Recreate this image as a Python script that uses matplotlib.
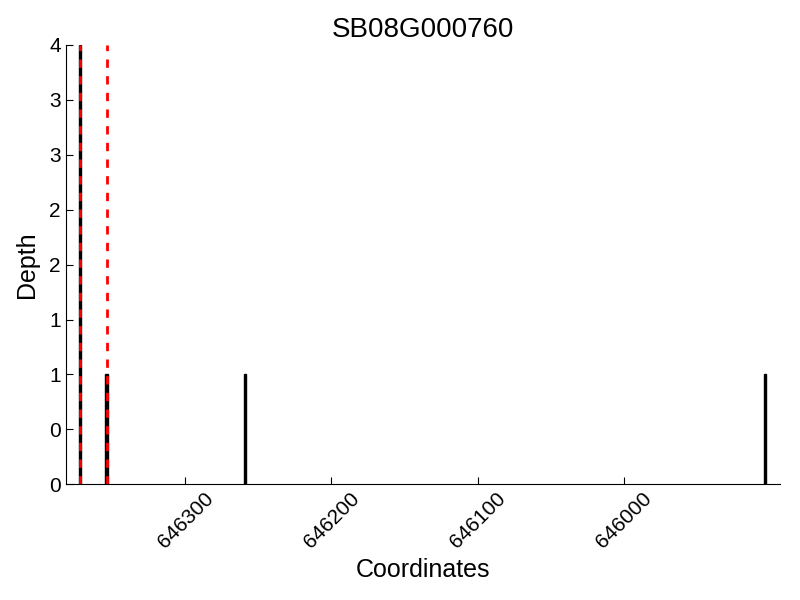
import matplotlib
matplotlib.use("Agg")
import matplotlib.pyplot as plt
from matplotlib.ticker import MultipleLocator, FormatStrFormatter

# Okuma derinligi verisi
gene_name = "SB08G000760"
positions = [646372, 646354, 646259, 645903]
depths = [4, 1, 1, 1]
site_lines = [646372, 646354]
x_ticks = [646300, 646200, 646100, 646000]

plt.rcParams["font.family"] = ["Liberation Sans", "DejaVu Sans"]

fig = plt.figure(figsize=(8, 6), dpi=100)
ax = fig.add_axes([0.082, 0.193, 0.893, 0.732])

ax.bar(positions, depths, width=1.5, color="black", edgecolor="black", linewidth=1)
for x in site_lines:
    ax.axvline(x, color="red", linestyle="--", linewidth=2, dashes=(3, 3))

ax.set_xlim(max(positions) + 10, min(positions) - 10)
ax.set_ylim(0, 4)
ax.set_xticks(x_ticks)
ax.yaxis.set_major_locator(MultipleLocator(0.5))
ax.yaxis.set_major_formatter(FormatStrFormatter("%d"))

ax.spines["top"].set_visible(False)
ax.spines["right"].set_visible(False)
ax.tick_params(direction="in", length=5, labelsize=15)
plt.setp(ax.get_xticklabels(), rotation=45)

ax.set_title(gene_name, fontsize=20)
ax.set_xlabel("Coordinates", fontsize=18)
ax.set_ylabel("Depth", fontsize=18, labelpad=7)

fig.savefig("out.png", dpi=100)
